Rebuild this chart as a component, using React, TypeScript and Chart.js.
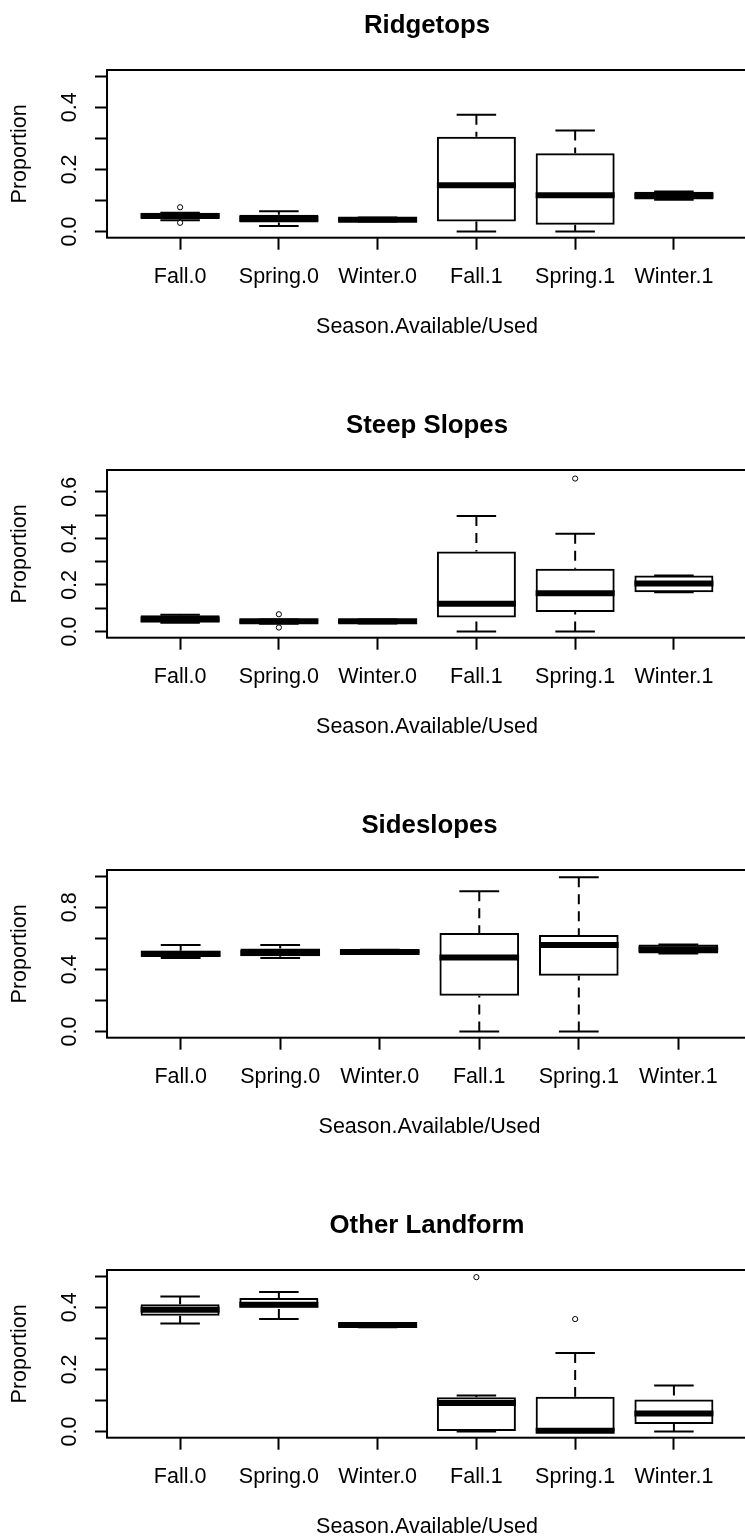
import React, { useEffect, useRef } from 'react';
import { Chart, registerables } from 'chart.js';

Chart.register(...registerables);

// ---------- shared labels ----------
const categories = ['Fall.0', 'Spring.0', 'Winter.0', 'Fall.1', 'Spring.1', 'Winter.1'];
const xAxisTitle = 'Season.Available/Used';
const yAxisTitle = 'Proportion';

// ---------- Ridgetops ----------
const ridgetopsLow = [0.036, 0.018, 0.032, 0.0, 0.0, 0.102];
const ridgetopsQ1 = [0.043, 0.029, 0.034, 0.032, 0.022, 0.103];
const ridgetopsMedian = [0.05, 0.041, 0.038, 0.149, 0.117, 0.115];
const ridgetopsQ3 = [0.06, 0.054, 0.043, 0.305, 0.252, 0.128];
const ridgetopsHigh = [0.06, 0.065, 0.045, 0.376, 0.325, 0.129];
const ridgetopsOutlierGroup = ['Fall.0', 'Fall.0'];
const ridgetopsOutlierValue = [0.078, 0.028];
const ridgetopsYTicks = [0, 0.1, 0.2, 0.3, 0.4, 0.5];
const ridgetopsYLabels = ['0.0', '', '0.2', '', '0.4', ''];
const ridgetopsYRange = [-0.02, 0.52];

// ---------- Steep Slopes ----------
const steepLow = [0.037, 0.033, 0.034, 0.0, 0.0, 0.169];
const steepQ1 = [0.04, 0.034, 0.035, 0.06, 0.084, 0.169];
const steepMedian = [0.052, 0.044, 0.044, 0.119, 0.164, 0.206];
const steepQ3 = [0.07, 0.05, 0.05, 0.344, 0.269, 0.24];
const steepHigh = [0.072, 0.052, 0.051, 0.496, 0.42, 0.24];
const steepOutlierGroup = ['Spring.0', 'Spring.0', 'Spring.1'];
const steepOutlierValue = [0.074, 0.017, 0.657];
const steepYTicks = [0, 0.1, 0.2, 0.3, 0.4, 0.5, 0.6];
const steepYLabels = ['0.0', '', '0.2', '', '0.4', '', '0.6'];
const steepYRange = [-0.0267, 0.6937];

// ---------- Sideslopes ----------
const sideLow = [0.473, 0.473, 0.503, 0.0, 0.0, 0.502];
const sideQ1 = [0.48, 0.484, 0.505, 0.23, 0.359, 0.503];
const sideMedian = [0.5, 0.505, 0.512, 0.477, 0.557, 0.53];
const sideQ3 = [0.52, 0.535, 0.525, 0.634, 0.621, 0.56];
const sideHigh = [0.557, 0.557, 0.527, 0.903, 0.994, 0.561];
const sideOutlierGroup: string[] = [];
const sideOutlierValue: number[] = [];
const sideYTicks = [0, 0.2, 0.4, 0.6, 0.8, 1.0];
const sideYLabels = ['0.0', '', '0.4', '', '0.8', ''];
const sideYRange = [-0.04, 1.04];

// ---------- Other Landform ----------
const otherLow = [0.348, 0.362, 0.336, 0.0, 0.0, 0.0];
const otherQ1 = [0.373, 0.399, 0.337, 0.0, 0.0, 0.024];
const otherMedian = [0.392, 0.408, 0.343, 0.092, 0.002, 0.058];
const otherQ3 = [0.41, 0.43, 0.348, 0.11, 0.112, 0.103];
const otherHigh = [0.435, 0.449, 0.349, 0.116, 0.253, 0.148];
const otherOutlierGroup = ['Fall.1', 'Spring.1'];
const otherOutlierValue = [0.497, 0.362];
const otherYTicks = [0, 0.1, 0.2, 0.3, 0.4, 0.5];
const otherYLabels = ['0.0', '', '0.2', '', '0.4', ''];
const otherYRange = [-0.02, 0.52];

// ---------- styling constants ----------
const BOX_WIDTH = 0.8; // in category units
const FONT_FAMILY = "'Liberation Sans', Arial, Helvetica, sans-serif";
const AXIS_FONT = { family: FONT_FAMILY, size: 21.5, lineHeight: 1.2 };
const TITLE_FONT = { family: FONT_FAMILY, size: 25.8, weight: 'bold' as const, lineHeight: 1.2 };
const INK = '#000000';
const CANVAS_W = 752;
const CANVAS_H = 400;

type Panel = {
  title: string;
  low: number[];
  q1: number[];
  median: number[];
  q3: number[];
  high: number[];
  outGroup: string[];
  outValue: number[];
  yTicks: number[];
  yLabels: string[];
  yRange: number[];
};

const panels: Panel[] = [
  { title: 'Ridgetops', low: ridgetopsLow, q1: ridgetopsQ1, median: ridgetopsMedian, q3: ridgetopsQ3, high: ridgetopsHigh, outGroup: ridgetopsOutlierGroup, outValue: ridgetopsOutlierValue, yTicks: ridgetopsYTicks, yLabels: ridgetopsYLabels, yRange: ridgetopsYRange },
  { title: 'Steep Slopes', low: steepLow, q1: steepQ1, median: steepMedian, q3: steepQ3, high: steepHigh, outGroup: steepOutlierGroup, outValue: steepOutlierValue, yTicks: steepYTicks, yLabels: steepYLabels, yRange: steepYRange },
  { title: 'Sideslopes', low: sideLow, q1: sideQ1, median: sideMedian, q3: sideQ3, high: sideHigh, outGroup: sideOutlierGroup, outValue: sideOutlierValue, yTicks: sideYTicks, yLabels: sideYLabels, yRange: sideYRange },
  { title: 'Other Landform', low: otherLow, q1: otherQ1, median: otherMedian, q3: otherQ3, high: otherHigh, outGroup: otherOutlierGroup, outValue: otherOutlierValue, yTicks: otherYTicks, yLabels: otherYLabels, yRange: otherYRange },
];

const framePlugin = {
  id: 'rFrame',
  beforeDatasetsDraw(chart: any) {
    const { ctx, chartArea: a } = chart;
    ctx.save();
    ctx.strokeStyle = INK;
    ctx.lineWidth = 2;
    ctx.strokeRect(a.left, a.top, a.right - a.left, a.bottom - a.top);
    ctx.restore();
  },
};

function halfWidthPx(ctx: any, fraction: number) {
  const s = ctx.chart.scales && ctx.chart.scales.x;
  if (!s) return 0;
  return Math.abs(s.getPixelForValue(1 + fraction) - s.getPixelForValue(1));
}

function makeConfig(p: Panel): any {
  const xs = categories.map((_, i) => i + 1);
  const boxes = xs.map((x, i) => ({ x, y: [p.q1[i], p.q3[i]] }));
  const medians = xs.map((x, i) => ({ x, y: p.median[i] }));
  const whiskers: any[] = [];
  xs.forEach((x, i) => {
    whiskers.push({ x, y: p.high[i] }, { x, y: p.q3[i] }, { x, y: null });
    whiskers.push({ x, y: p.low[i] }, { x, y: p.q1[i] }, { x, y: null });
  });
  const staples: any[] = [];
  xs.forEach((x, i) => {
    staples.push({ x, y: p.low[i] }, { x, y: p.high[i] });
  });
  const outliers = p.outGroup.map((g, k) => ({ x: categories.indexOf(g) + 1, y: p.outValue[k] }));

  const tickGrid = {
    display: true,
    offset: false,
    drawOnChartArea: false,
    drawTicks: true,
    tickLength: 12,
    tickColor: INK,
    tickWidth: 2,
  };

  return {
    type: 'bar',
    data: {
      datasets: [
        {
          type: 'scatter',
          label: 'median',
          data: medians,
          order: 0,
          pointStyle: 'line',
          pointRadius: (ctx: any) => halfWidthPx(ctx, BOX_WIDTH / 2),
          pointBorderWidth: 6,
          pointBorderColor: INK,
          borderColor: INK,
          borderWidth: 6,
          showLine: false,
        },
        {
          type: 'scatter',
          label: 'outliers',
          data: outliers,
          order: 0,
          pointStyle: 'circle',
          pointRadius: 2.6,
          pointBorderWidth: 1,
          pointBorderColor: INK,
          pointBackgroundColor: '#ffffff',
          showLine: false,
        },
        {
          type: 'bar',
          label: 'box',
          data: boxes,
          order: 1,
          backgroundColor: 'rgba(255,255,255,0)',
          borderColor: INK,
          borderWidth: 2,
          borderSkipped: false,
          barPercentage: BOX_WIDTH,
          categoryPercentage: 1,
          grouped: false,
        },
        {
          type: 'scatter',
          label: 'staples',
          data: staples,
          order: 2,
          pointStyle: 'line',
          pointRadius: (ctx: any) => halfWidthPx(ctx, BOX_WIDTH / 4),
          pointBorderWidth: 2,
          pointBorderColor: INK,
          borderColor: INK,
          borderWidth: 2,
          showLine: false,
        },
        {
          type: 'line',
          label: 'whiskers',
          data: whiskers,
          order: 3,
          borderColor: INK,
          borderWidth: 2,
          borderDash: [10, 7],
          pointRadius: 0,
          spanGaps: false,
          fill: false,
          tension: 0,
        },
      ],
    },
    options: {
      responsive: false,
      animation: false,
      devicePixelRatio: 1,
      events: [],
      layout: { padding: { left: 7.1, right: 0, top: 0, bottom: 59.6 } },
      plugins: {
        legend: { display: false },
        tooltip: { enabled: false },
        title: {
          display: true,
          text: p.title,
          fullSize: false,
          color: INK,
          font: TITLE_FONT,
          padding: { top: 10, bottom: 29.04 },
        },
      },
      scales: {
        x: {
          type: 'linear',
          offset: false,
          min: 0.26,
          max: 6.74,
          afterBuildTicks: (scale: any) => {
            scale.ticks = xs.map((v) => ({ value: v }));
          },
          ticks: {
            callback: (_v: any, i: number) => categories[i],
            autoSkip: false,
            minRotation: 0,
            maxRotation: 0,
            padding: 14.9,
            color: INK,
            font: AXIS_FONT,
          },
          grid: tickGrid,
          border: { display: false },
          title: {
            display: true,
            text: xAxisTitle,
            color: INK,
            font: AXIS_FONT,
            padding: { top: 9.3, bottom: 0 },
          },
        },
        y: {
          type: 'linear',
          offset: false,
          min: p.yRange[0],
          max: p.yRange[1],
          afterBuildTicks: (scale: any) => {
            scale.ticks = p.yTicks.map((v) => ({ value: v }));
          },
          ticks: {
            callback: (_v: any, i: number) => p.yLabels[i],
            autoSkip: false,
            minRotation: 90,
            maxRotation: 90,
            crossAlign: 'center',
            padding: 10.06,
            color: INK,
            font: AXIS_FONT,
          },
          grid: tickGrid,
          border: { display: false },
          title: {
            display: true,
            text: yAxisTitle,
            color: INK,
            font: AXIS_FONT,
            padding: { top: 0, bottom: 16.2 },
          },
        },
      },
    },
    plugins: [framePlugin],
  };
}

function BoxPanel({ panel }: { panel: Panel }) {
  const ref = useRef<HTMLCanvasElement | null>(null);
  useEffect(() => {
    if (!ref.current) return;
    const chart = new Chart(ref.current, makeConfig(panel));
    return () => chart.destroy();
  }, [panel]);
  return <canvas ref={ref} width={CANVAS_W} height={CANVAS_H} style={{ display: 'block' }} />;
}

export default function App() {
  return (
    <div
      style={{
        position: 'absolute',
        left: 0,
        top: 0,
        width: 745,
        height: 1540,
        overflow: 'hidden',
        background: '#ffffff',
      }}
    >
      {panels.map((p, i) => (
        <div key={p.title} style={{ position: 'absolute', left: 0, top: i * CANVAS_H, width: CANVAS_W, height: CANVAS_H }}>
          <BoxPanel panel={p} />
        </div>
      ))}
    </div>
  );
}
